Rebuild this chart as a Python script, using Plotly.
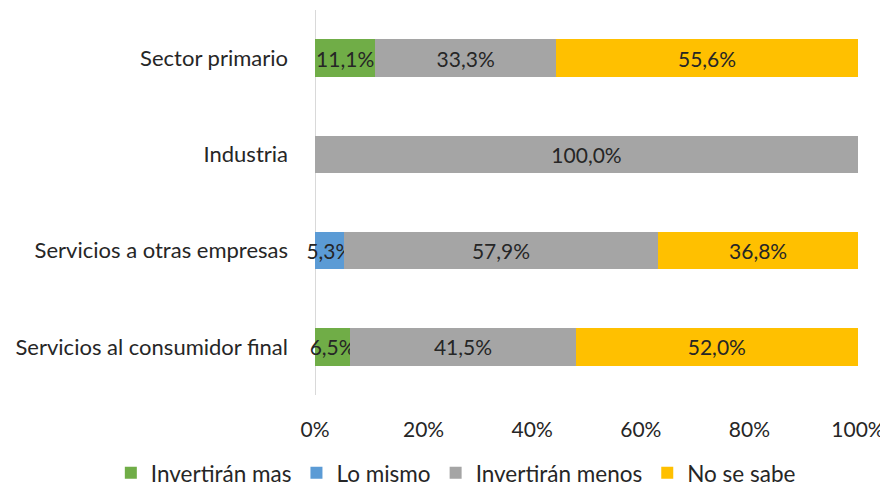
import plotly.graph_objects as go

categories = [
    "Sector primario",
    "Industria",
    "Servicios a otras empresas",
    "Servicios al consumidor final",
]
invertiran_mas = [11.1, 0, 0, 6.5]
lo_mismo = [0, 0, 5.3, 0]
invertiran_menos = [33.3, 100.0, 57.9, 41.5]
no_se_sabe = [55.6, 0, 36.8, 52.0]

series = [
    ("Invertirán mas", invertiran_mas, "#70AD47"),
    ("Lo mismo", lo_mismo, "#5B9BD5"),
    ("Invertirán menos", invertiran_menos, "#A5A5A5"),
    ("No se sabe", no_se_sabe, "#FFC000"),
]

font_family = "Lato, 'Open Sans', sans-serif"

fig = go.Figure()
for name, vals, color in series:
    labels = [f"{v:.1f}%".replace(".", ",") if v > 0 else "" for v in vals]
    fig.add_trace(
        go.Bar(
            y=categories,
            x=vals,
            name=name,
            orientation="h",
            marker=dict(color=color, line=dict(width=0)),
            text=labels,
            textposition="inside",
            insidetextanchor="middle",
            textangle=0,
            constraintext="none",
            textfont=dict(family=font_family, size=21, color="#262626"),
            cliponaxis=False,
            hoverinfo="skip",
        )
    )

# page body has an 8px margin, so the figure is 8px smaller on each axis
fig.update_layout(
    barmode="stack",
    bargap=0.61,
    width=880,
    height=480,
    margin=dict(l=307, r=30, t=2, b=93, autoexpand=False),
    plot_bgcolor="white",
    paper_bgcolor="white",
    font=dict(family=font_family, size=21, color="#262626"),
    legend=dict(
        orientation="h",
        x=-0.376,
        xanchor="left",
        y=-0.203,
        yanchor="middle",
        font=dict(size=22.5),
        itemwidth=30,
        traceorder="normal",
    ),
    xaxis=dict(
        range=[0, 100],
        tickvals=[0, 20, 40, 60, 80, 100],
        ticktext=["0%", "20%", "40%", "60%", "80%", "100%"],
        showgrid=False,
        zeroline=False,
        showline=False,
        ticks="",
        ticklabelstandoff=20,
        automargin=False,
    ),
    yaxis=dict(
        autorange="reversed",
        showgrid=False,
        zeroline=False,
        showline=False,
        ticks="",
        ticklabelstandoff=26,
        tickfont=dict(size=22),
        automargin=False,
    ),
    shapes=[
        dict(
            type="line",
            xref="x",
            yref="paper",
            x0=0,
            x1=0,
            y0=0,
            y1=1,
            line=dict(color="#D9D9D9", width=2),
            layer="below",
        )
    ],
)

fig.write_html("out.html")
